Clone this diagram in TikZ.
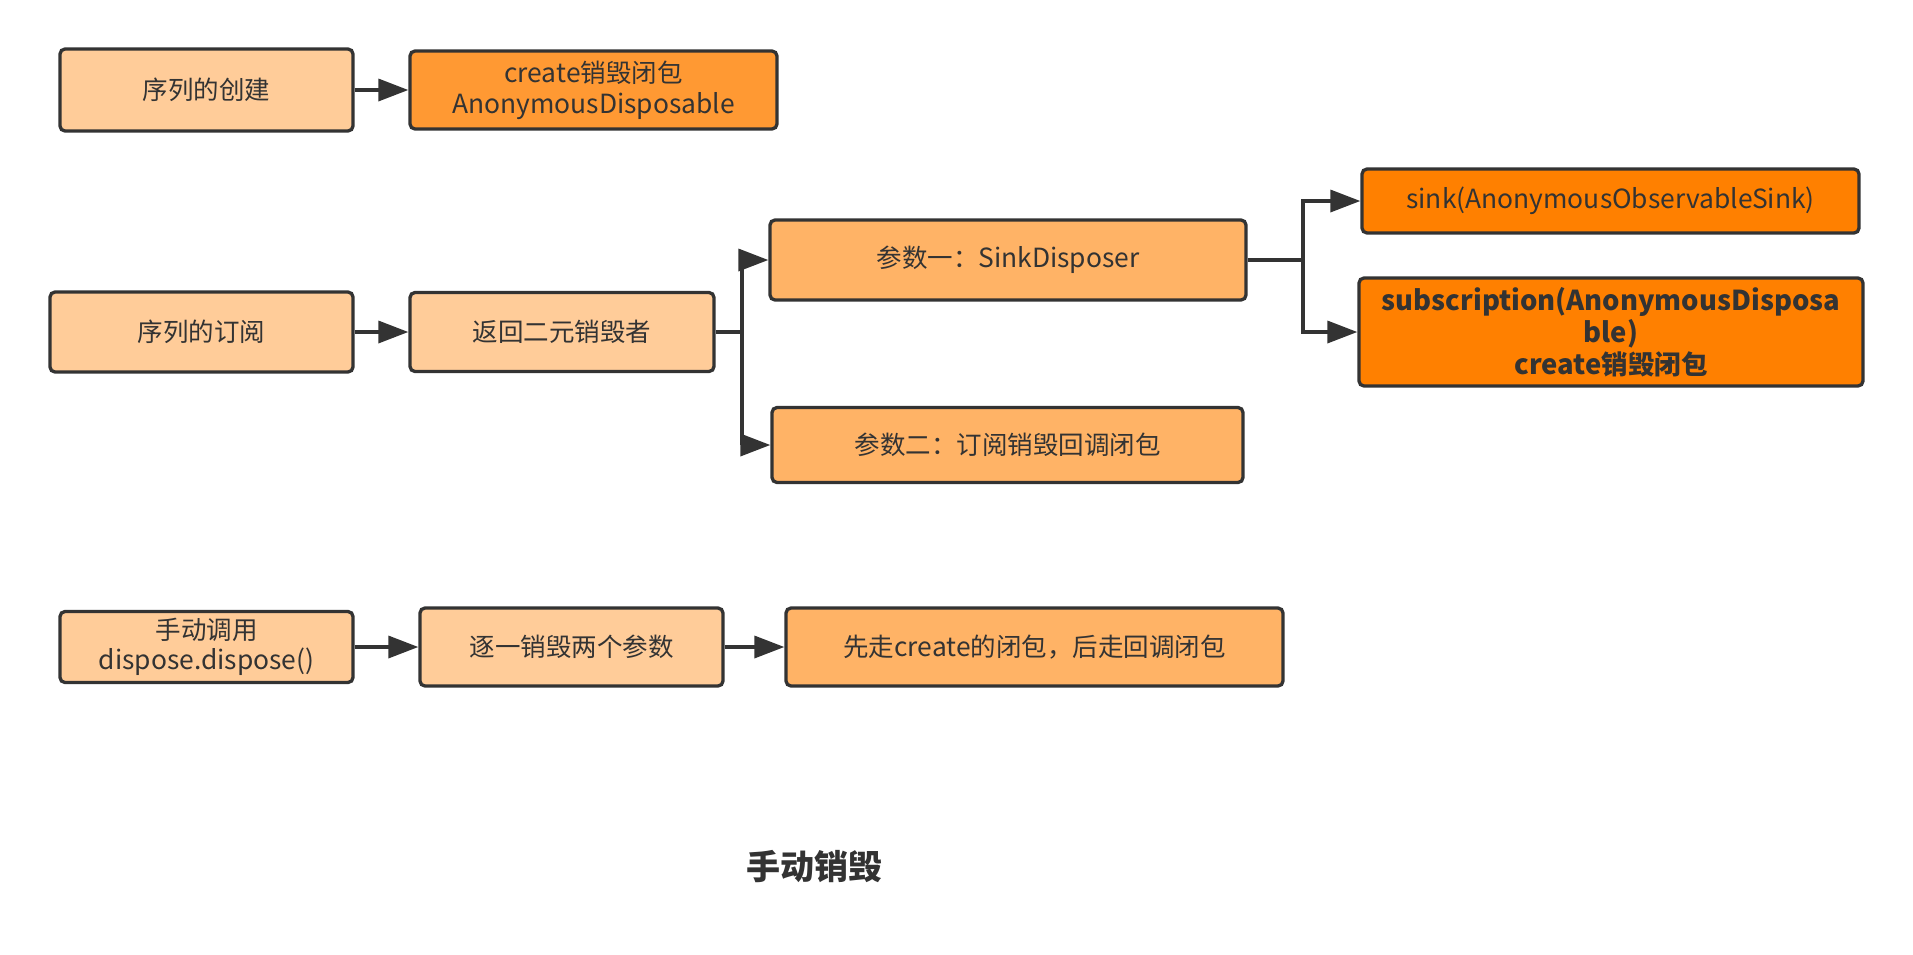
\documentclass[tikz,border=0pt]{standalone}
\usepackage{fontspec}
\setmainfont{Noto Sans CJK SC}
\newfontfamily\lat{Noto Sans CJK SC}[Scale=1.035]
\usetikzlibrary{arrows.meta}
\definecolor{boxline}{HTML}{333333}
\definecolor{txt}{HTML}{333333}
\definecolor{peach}{HTML}{FFCC99}
\definecolor{midorange}{HTML}{FFB366}
\definecolor{orangeB}{HTML}{FF9933}
\definecolor{deeporange}{HTML}{FF8000}
\begin{document}
\begin{tikzpicture}[x=1pt,y=-1pt,
  box/.style={draw=boxline, line width=3.3pt, rounded corners=5pt, align=center,
    inner sep=0pt, font=\fontsize{25.5}{31}\selectfont, text=txt},
  conn/.style={draw=boxline, line width=3.5pt, -{Triangle[length=30pt,width=22pt]}},
]
\useasboundingbox[fill=white] (0,0) rectangle (1913,954);

\node[box, fill=peach, minimum width=293pt, minimum height=82pt] (A) at (206.5,90) {序列的创建};
\node[box, fill=orangeB, minimum width=367pt, minimum height=78pt] (B) at (593.5,90) {{\lat create}销毁闭包\\{\lat AnonymousDisposable}};

\node[box, fill=peach, minimum width=303pt, minimum height=80pt] (C) at (201.5,332) {序列的订阅};
\node[box, fill=peach, minimum width=304pt, minimum height=79pt] (D) at (562,332) {返回二元销毁者};
\node[box, fill=midorange, minimum width=476pt, minimum height=80pt] (E) at (1008,260) {参数一：{\lat SinkDisposer}};
\node[box, fill=midorange, minimum width=471pt, minimum height=75pt] (F) at (1007.5,445) {参数二：订阅销毁回调闭包};
\node[box, fill=deeporange, minimum width=497pt, minimum height=64pt] (G) at (1610.5,201) {{\lat sink(AnonymousObservableSink)}};
\node[box, fill=deeporange, minimum width=504pt, minimum height=108pt, font=\bfseries\fontsize{26.5}{32}\selectfont] (H) at (1611,332) {{\lat subscription(AnonymousDisposa}\\{\lat ble)}\\{\lat create}销毁闭包};

\node[box, fill=peach, minimum width=293pt, minimum height=71pt, font=\fontsize{25.5}{30}\selectfont] (I) at (206.5,647) {手动调用\\{\lat dispose.dispose()}};
\node[box, fill=peach, minimum width=303pt, minimum height=78pt] (J) at (571.5,647) {逐一销毁两个参数};
\node[box, fill=midorange, minimum width=497pt, minimum height=78pt] (K) at (1034.5,647) {先走{\lat create}的闭包，后走回调闭包};

\node[font=\bfseries\fontsize{34}{40}\selectfont, text=txt] (T) at (814,867) {手动销毁};

\coordinate (j1) at (742,332);
\coordinate (j2) at (1303,260);

\draw[conn] (A.east) -- (B.west);
\draw[conn] (C.east) -- (D.west);
\draw[conn] (D.east) -- (j1) |- (E.west);
\draw[conn] (j1) |- (F.west);
\draw[conn] (E.east) -- (j2) |- (G.west);
\draw[conn] (j2) |- (H.west);
\draw[conn] (I.east) -- (J.west);
\draw[conn] (J.east) -- (K.west);
\end{tikzpicture}
\end{document}
